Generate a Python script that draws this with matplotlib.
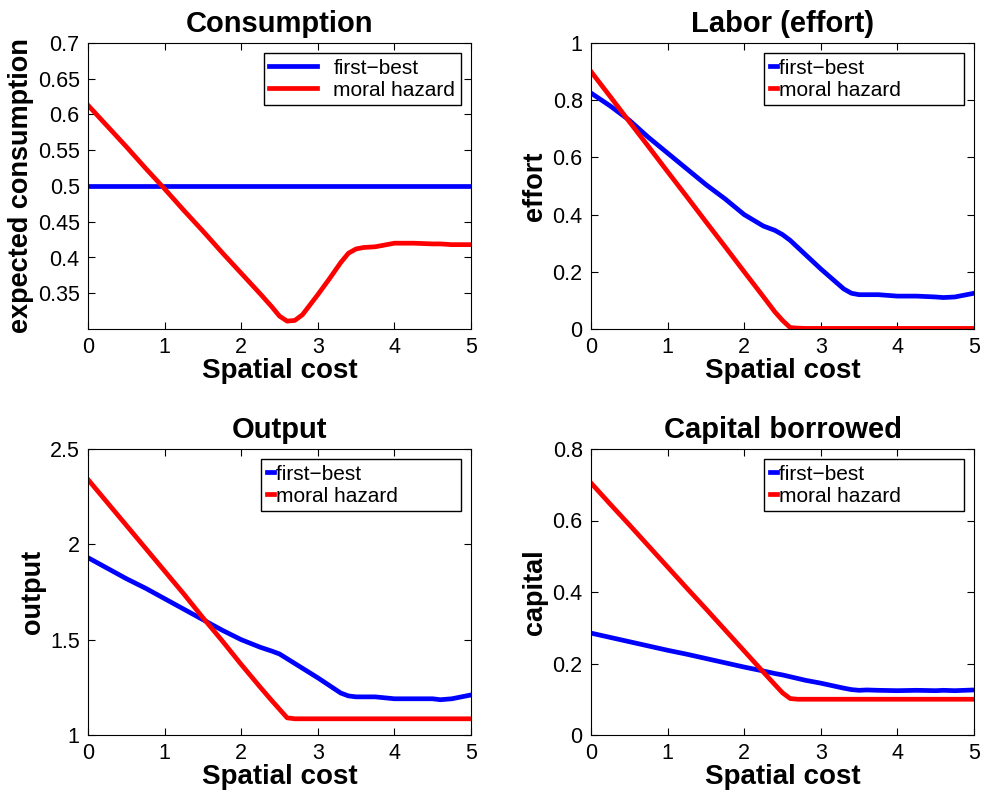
import matplotlib
matplotlib.use("Agg")
import matplotlib.pyplot as plt
import numpy as np

plt.rcParams['font.family'] = ['Liberation Sans', 'DejaVu Sans']

# spatial cost grid
x = [0, 0.25, 0.5, 0.75, 1.0, 1.25, 1.5, 1.75, 2.0, 2.25, 2.4, 2.5, 2.6, 2.7,
     2.8, 3.0, 3.15, 3.3, 3.4, 3.5, 3.6, 3.75, 4.0, 4.25, 4.5, 4.6, 4.75, 5.0]

cons_fb = [0.5] * len(x)
cons_mh = [0.613, 0.584, 0.555, 0.525, 0.496, 0.466, 0.437, 0.407, 0.378, 0.349,
           0.331, 0.318, 0.311, 0.312, 0.320, 0.348, 0.370, 0.393, 0.406, 0.412,
           0.414, 0.415, 0.420, 0.420, 0.419, 0.419, 0.418, 0.418]

eff_fb = [0.825, 0.78, 0.73, 0.67, 0.615, 0.56, 0.505, 0.455, 0.40, 0.36,
          0.345, 0.33, 0.31, 0.285, 0.26, 0.21, 0.175, 0.14, 0.125, 0.12,
          0.12, 0.12, 0.115, 0.115, 0.112, 0.11, 0.112, 0.125]
eff_mh = [0.90, 0.813, 0.725, 0.638, 0.55, 0.463, 0.375, 0.288, 0.20, 0.113,
          0.06, 0.03, 0.005, 0.003, 0.002, 0.002, 0.002, 0.002, 0.002, 0.002,
          0.002, 0.002, 0.002, 0.002, 0.002, 0.002, 0.002, 0.002]

out_fb = [1.93, 1.875, 1.82, 1.77, 1.715, 1.66, 1.605, 1.55, 1.50, 1.46,
          1.44, 1.425, 1.40, 1.375, 1.35, 1.30, 1.26, 1.22, 1.205, 1.20,
          1.20, 1.20, 1.19, 1.19, 1.19, 1.185, 1.19, 1.21]
out_mh = [2.34, 2.22, 2.10, 1.98, 1.86, 1.74, 1.615, 1.495, 1.37, 1.25,
          1.18, 1.135, 1.09, 1.085, 1.085, 1.085, 1.085, 1.085, 1.085, 1.085,
          1.085, 1.085, 1.085, 1.085, 1.085, 1.085, 1.085, 1.085]

cap_fb = [0.285, 0.273, 0.261, 0.249, 0.237, 0.226, 0.214, 0.202, 0.190, 0.179,
          0.172, 0.168, 0.163, 0.158, 0.153, 0.145, 0.138, 0.131, 0.127, 0.125,
          0.126, 0.125, 0.124, 0.125, 0.124, 0.125, 0.124, 0.126]
cap_mh = [0.705, 0.646, 0.588, 0.529, 0.470, 0.411, 0.353, 0.294, 0.235, 0.176,
          0.141, 0.118, 0.102, 0.100, 0.100, 0.100, 0.100, 0.100, 0.100, 0.100,
          0.100, 0.100, 0.100, 0.100, 0.100, 0.100, 0.100, 0.100]

titles = ['Consumption', 'Labor (effort)', 'Output', 'Capital borrowed']
ylabels = ['expected consumption', 'effort', 'output', 'capital']
ylims = [(0.3, 0.7), (0, 1), (1, 2.5), (0, 0.8)]
yticks = [[0.35, 0.4, 0.45, 0.5, 0.55, 0.6, 0.65, 0.7],
          [0, 0.2, 0.4, 0.6, 0.8, 1],
          [1, 1.5, 2, 2.5],
          [0, 0.2, 0.4, 0.6, 0.8]]
ytlabels = [['0.35', '0.4', '0.45', '0.5', '0.55', '0.6', '0.65', '0.7'],
            ['0', '0.2', '0.4', '0.6', '0.8', '1'],
            ['1', '1.5', '2', '2.5'],
            ['0', '0.2', '0.4', '0.6', '0.8']]
series = [(cons_fb, cons_mh), (eff_fb, eff_mh), (out_fb, out_mh), (cap_fb, cap_mh)]

fig = plt.figure(figsize=(9.81, 7.98), dpi=100)
W, H = 981.0, 798.0
boxes = [(88, 43, 471, 329), (591, 43, 974, 329),
         (88, 449, 471, 735), (591, 449, 974, 735)]

for i in range(4):
    l, t, r, b = boxes[i]
    ax = fig.add_axes([l / W, 1 - b / H, (r - l) / W, (b - t) / H])
    fb, mh = series[i]
    ax.plot(x, fb, color='#0000ff', lw=3.4, label='first\u2212best')
    ax.plot(x, mh, color='#ff0000', lw=3.4, label='moral hazard')
    ax.set_xlim(0, 5)
    ax.set_ylim(*ylims[i])
    ax.set_xticks([0, 1, 2, 3, 4, 5])
    ax.set_yticks(yticks[i])
    ax.set_yticklabels(ytlabels[i])
    ax.tick_params(direction='in', top=True, right=True, labelsize=15.5, length=5, pad=6)
    ax.set_title(titles[i], fontsize=21, fontweight='bold', pad=8)
    ax.set_xlabel('Spatial cost', fontsize=20, fontweight='bold', labelpad=0)
    ax.set_ylabel(ylabels[i], fontsize=19.5, fontweight='bold', labelpad=3)
    if i == 0:
        leg = ax.legend(loc='upper right', fontsize=15, handlelength=2.3,
                        fancybox=False, edgecolor='black', framealpha=1,
                        borderaxespad=0.5, labelspacing=0.15, borderpad=0.25)
    else:
        leg = ax.legend(loc='upper right', fontsize=15, handlelength=0.35,
                        handletextpad=0.1, fancybox=False, edgecolor='black',
                        framealpha=1, borderaxespad=0.5, labelspacing=0.15,
                        borderpad=0.25)
        # pad right side like the reference's wide box
        for txt in leg.get_texts():
            txt.set_text(txt.get_text() + '          ')
    leg.get_frame().set_linewidth(1.0)

plt.savefig('out.png', dpi=100)
